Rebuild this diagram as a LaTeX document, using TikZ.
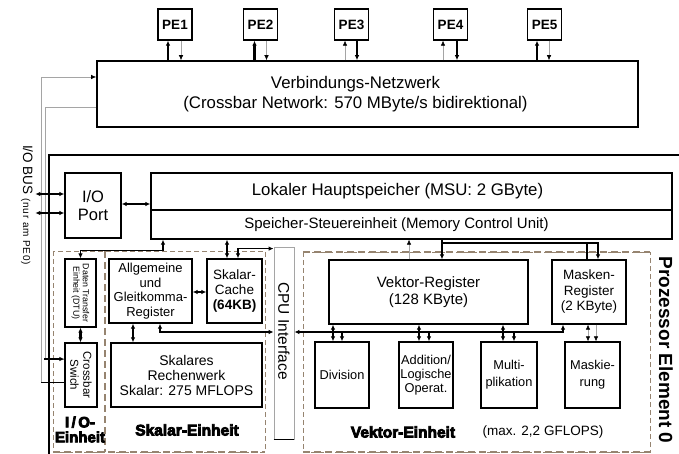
\documentclass[tikz,border=0pt]{standalone}
\usepackage{fontspec}
\setmainfont{Liberation Sans}
\newfontfamily\heavy[FakeBold=5]{Liberation Sans Bold}
\usetikzlibrary{arrows.meta,calc}
\definecolor{dbrown}{RGB}{150,132,112}
\definecolor{lgray}{RGB}{165,165,165}
\newcommand{\fsz}[2]{\fontsize{#1}{#2}\selectfont}
\tikzset{
  >={Latex[length=5pt,width=4.5pt]},
  blk/.style={draw=black, line width=1.3pt, inner sep=0pt, align=center, fill=white},
  peb/.style={blk, minimum width=34pt, minimum height=31pt, font=\fsz{13.5}{15}\bfseries},
  thk/.style={line width=2.2pt},
  mid/.style={line width=1.1pt},
  thn/.style={line width=0.6pt, draw=lgray, >={Latex[length=5pt,width=4.5pt,color=black]}},
  gl/.style={line width=0.7pt, draw=lgray, >={Latex[length=5pt,width=4.5pt,color=black]}},
  thindash/.style={draw=dbrown, line width=0.7pt, dash pattern=on 5pt off 3pt},
  thickdash/.style={draw=dbrown, line width=2.4pt, dash pattern=on 7pt off 4pt},
  lbl/.style={inner sep=0pt, align=center},
}
\begin{document}
\begin{tikzpicture}[x=1pt,y=-1pt]
\useasboundingbox (0,0) rectangle (679,454);

% dashed unit regions
\draw[thindash] (53,251) rectangle (265,452);
\draw[thickdash] (105,251) -- (105,452);
\draw[thickdash] (53,452) -- (265,452);
\draw[thindash] (303,252) rectangle (650,452);
\draw[thickdash] (303,252) -- (650,252);
\draw[thickdash] (303,452) -- (650,452);

% outer frame of processor element
\draw[line width=1.5pt] (49,456) -- (49,155) -- (681,155);

% PEs and network
\node[peb] (pe1) at (175,24.5) {PE1};
\node[peb] (pe2) at (260.5,24.5) {PE2};
\node[peb] (pe3) at (351.5,24.5) {PE3};
\node[peb] (pe4) at (450.5,24.5) {PE4};
\node[peb] (pe5) at (544.5,24.5) {PE5};
\node[blk, line width=1.6pt, minimum width=541pt, minimum height=66pt] (net) at (367.5,94) {};
\node[lbl, font=\fsz{16.8}{20.5}] (nettxt) at ([xshift=-12pt]net.center)
  {Verbindungs-Netzwerk\\(Crossbar Network: 570 MByte/s bidirektional)};

% processor element blocks
\node[blk, minimum width=56pt, minimum height=65pt, font=\fsz{16.5}{18.5}] (ioport) at (93,205.5) {I/O\\Port};
\node[blk, minimum width=521pt, minimum height=37pt] (msu) at (411.5,191.5) {};
\node[lbl, font=\fsz{16.8}{18}] (msutxt) at ([xshift=-14pt]msu.center) {Lokaler Hauptspeicher (MSU: 2 GByte)};
\node[blk, minimum width=521pt, minimum height=29pt] (mcu) at (411.5,224.5) {};
\node[lbl, font=\fsz{15}{16}] (mcutxt) at ([xshift=-15pt]mcu.center) {Speicher-Steuereinheit (Memory Control Unit)};
\node[blk, line width=1.2pt, minimum width=31pt, minimum height=68pt] (dtu) at (80.5,293) {};
\node[lbl, rotate=-90, font=\fsz{8.8}{9.5}] at (dtu) {Daten Transfer\\Einheit (DTU)};
\node[blk, line width=1.2pt, minimum width=32pt, minimum height=64pt] (xbar) at (81,375) {};
\node[lbl, rotate=-90, font=\fsz{11.5}{13}] at (xbar) {Crossbar\\Swich};
\node[blk, minimum width=83pt, minimum height=64pt, font=\fsz{13}{14.5}] (reg) at (150.5,291) {Allgemeine\\und\\Gleitkomma-\\Register};
\node[blk, minimum width=55pt, minimum height=64pt, font=\fsz{13.5}{15}] (cache) at (234.5,291) {Skalar-\\Cache\\\textbf{(64KB)}};
\node[blk, minimum width=151pt, minimum height=64pt, font=\fsz{14}{15}] (rw) at (186.5,375) {Skalares\\Rechenwerk\\Skalar: 275 MFLOPS};
\node[blk, draw=lgray, line width=0.8pt, minimum width=20pt, minimum height=192pt] (cpu) at (284,343) {};
\draw[line width=1pt] (cpu.south west) -- (cpu.south east);
\node[lbl, rotate=-90, font=\fsz{15.5}{17}] at (284,331) {CPU Interface};
\node[blk, minimum width=199pt, minimum height=64pt, font=\fsz{15}{17}] (vreg) at (428.5,292) {Vektor-Register\\(128 KByte)};
\node[blk, minimum width=74pt, minimum height=64pt, font=\fsz{13.5}{15.5}] (mreg) at (589,292) {Masken-\\Register\\(2 KByte)};
\node[blk, minimum width=54pt, minimum height=66pt, font=\fsz{12.8}{14}] (div) at (342,375) {Division};
\node[blk, minimum width=54pt, minimum height=66pt, font=\fsz{12.8}{14}] (add) at (426,375) {Addition/\\Logische\\Operat.};
\node[blk, minimum width=56pt, minimum height=66pt, font=\fsz{12.8}{17}] (mul) at (509,375) {Multi-\\plikation};
\node[blk, minimum width=55pt, minimum height=66pt, font=\fsz{12.8}{17}] (mask) at (592.5,375) {Maskie-\\rung};

% PE connectors
\draw[thk,->] ([xshift=-7pt]pe1.south |- net.north) -- ([xshift=-7pt]pe1.south);
\draw[thn,->] ([xshift=6pt]pe1.south) -- ([xshift=6pt]pe1.south |- net.north);
\draw[thk,->] ([xshift=-6pt]pe2.south |- net.north) -- ([xshift=-6pt]pe2.south);
\draw[thn,->] ([xshift=6pt]pe2.south) -- ([xshift=6pt]pe2.south |- net.north);
\draw[thn,->] ([xshift=-6.5pt]pe3.south |- net.north) -- ([xshift=-6.5pt]pe3.south);
\draw[thk,->] ([xshift=5.5pt]pe3.south) -- ([xshift=5.5pt]pe3.south |- net.north);
\draw[thn,->] ([xshift=-7.5pt]pe4.south |- net.north) -- ([xshift=-7.5pt]pe4.south);
\draw[thk,->] ([xshift=6.5pt]pe4.south) -- ([xshift=6.5pt]pe4.south |- net.north);
\draw[thk,->] ([xshift=-7.5pt]pe5.south |- net.north) -- ([xshift=-7.5pt]pe5.south);
\draw[thn,->] ([xshift=4.5pt]pe5.south) -- ([xshift=4.5pt]pe5.south |- net.north);

% I/O bus lines
\draw[gl,->] ([yshift=-7pt]xbar.west) -- ++(-23,0) |- ([yshift=17pt]net.west);
\draw[line width=0.7pt] ([yshift=-7pt]xbar.west) -- ++(-23,0);
\draw[gl] ([yshift=-13pt]net.west) -- ++(-51,0) |- ([yshift=16pt]xbar.west);
\draw[thk,->] ([yshift=16pt,xshift=-20pt]xbar.west) -- ([yshift=16pt]xbar.west);
\draw[thk,<->] ([yshift=11.5pt]ioport.west) -- ++(-29,0);
\draw[mid,<->] ([yshift=-7.5pt]ioport.west) -- ++(-29,0);
\node[lbl, rotate=-90, anchor=west, font=\fsz{13.5}{15}] (iobus) at (27,145) {I/O BUS {\fsz{10}{12}\addfontfeature{LetterSpace=8}(nur am PE0)}};

% scalar side connectors
\draw[thk,<->] ([yshift=1.5pt]ioport.east) -- ([yshift=1.5pt]ioport.east -| msu.west);
\draw[mid,<->] ([xshift=12.5pt]reg.north |- mcu.south) -- ++(0,11) -| (dtu.north);
\draw[thk,<->] (dtu.south) -- (dtu.south |- xbar.north);
\draw[thk,<->] ([yshift=-1pt]reg.east) -- ([yshift=-1pt]reg.east -| cache.west);
\draw[thk,<->] ([xshift=-7.5pt]cache.north) -- ([xshift=-7.5pt]cache.north |- mcu.south);
\draw[mid,<->] ([xshift=3.5pt]cache.north) |- ([yshift=-2pt]cpu.north west);
\draw[thk,<->] ([xshift=-17.5pt]reg.south) -- ([xshift=-17.5pt]reg.south |- rw.north);
\draw[thk,<->] ([xshift=9.5pt]reg.south) |- ([yshift=11pt]cpu.west);

% vector side connectors
\coordinate (busy) at ([yshift=11pt]cpu.east);
\draw[thk,<->] (busy) -| ([xshift=-26pt]mreg.south);
\draw[mid,<->] ([xshift=-9pt]div.north) -- ([xshift=-9pt]div.north |- vreg.south);
\draw[mid,->] (div.north |- busy) -- (div.north);
\draw[mid,<->] ([xshift=-7pt]add.north) -- ([xshift=-7pt]add.north |- vreg.south);
\draw[mid,->] ([xshift=3pt]add.north |- busy) -- ([xshift=3pt]add.north);
\draw[mid,<->] ([xshift=-6pt]mul.north) -- ([xshift=-6pt]mul.north |- vreg.south);
\draw[mid,->] ([xshift=5pt]mul.north |- busy) -- ([xshift=5pt]mul.north);
\draw[thn,<->] ([xshift=-4.5pt]mask.north) -- ([xshift=-4.5pt]mask.north |- mreg.south);
\draw[thn,->] ([xshift=3.5pt]mask.north |- mreg.south) -- ([xshift=3.5pt]mask.north);

\draw[thk,->] ([xshift=13.5pt]vreg.north |- mcu.south) -- ([xshift=13.5pt]vreg.north);
\draw[thk,->] ([xshift=13.5pt,yshift=-3pt]vreg.north |- mcu.south) -| ([xshift=9pt]mreg.north);
\draw[thk] ([xshift=-2pt]mreg.north) -- ([xshift=-2pt,yshift=-3pt]mreg.north |- mcu.south);
\draw[thn,->] ([xshift=-19.5pt]vreg.north) -- ([xshift=-19.5pt]vreg.north |- mcu.south);

% unit labels
\node[lbl, font=\fsz{15}{15}\heavy] (ioe) at (80,429.5) {I\,/\,O-\\Einheit};
\node[lbl, font=\fsz{15.5}{16}\heavy] (ske) at (187,430) {Skalar-Einheit};
\node[lbl, font=\fsz{15.5}{16}\heavy] (vke) at (403,432) {Vektor-Einheit};
\node[lbl, font=\fsz{13.5}{16}] (gfl) at (543,432) {(max. 2,2 GFLOPS)};
\node[lbl, rotate=-90, font=\fsz{19}{20}\bfseries] (pe0) at (666,350) {Prozessor Element 0};
\end{tikzpicture}
\end{document}
